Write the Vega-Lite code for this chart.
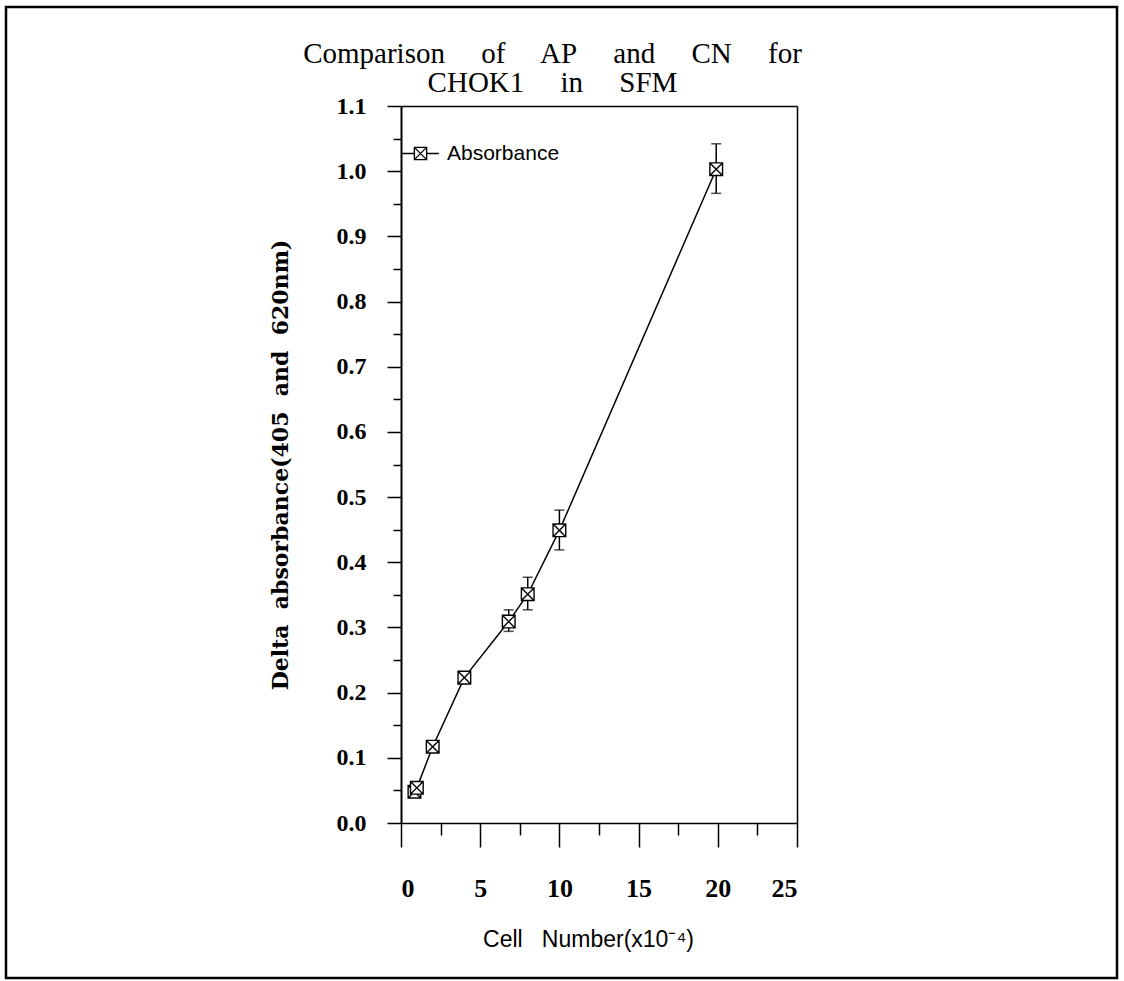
{
  "$schema": "https://vega.github.io/schema/vega-lite/v6.json",
  "width": 1111,
  "height": 971,
  "autosize": {"type": "none"},
  "padding": {"left": 6, "top": 7, "right": 7, "bottom": 3},
  "background": "white",
  "config": {
    "view": {"stroke": "black", "strokeWidth": 2.5},
    "axis": {"domainColor": "black", "tickColor": "black", "labelColor": "black", "titleColor": "black", "grid": false}
  },
  "title": {
    "text": ["Comparison\u00a0\u00a0\u00a0\u00a0 of\u00a0\u00a0\u00a0\u00a0 AP\u00a0\u00a0\u00a0\u00a0 and\u00a0\u00a0\u00a0\u00a0 CN\u00a0\u00a0\u00a0\u00a0 for", "CHOK1\u00a0\u00a0\u00a0\u00a0 in\u00a0\u00a0\u00a0\u00a0 SFM"],
    "font": "Liberation Serif",
    "fontSize": 29,
    "fontWeight": "normal",
    "lineHeight": 29,
    "anchor": "middle",
    "frame": "group",
    "dx": -9,
    "dy": 91,
    "offset": 0,
    "color": "black"
  },
  "data": {
    "values": [
      {"cells": 0.85, "abs": 0.048, "series": "Absorbance"},
      {"cells": 1.0, "abs": 0.054, "series": "Absorbance"},
      {"cells": 2.0, "abs": 0.117, "series": "Absorbance"},
      {"cells": 4.0, "abs": 0.223, "series": "Absorbance"},
      {"cells": 6.8, "abs": 0.309, "lo": 0.294, "hi": 0.327, "series": "Absorbance"},
      {"cells": 8.0, "abs": 0.351, "lo": 0.327, "hi": 0.377, "series": "Absorbance"},
      {"cells": 10.0, "abs": 0.449, "lo": 0.419, "hi": 0.480, "series": "Absorbance"},
      {"cells": 19.9, "abs": 1.003, "lo": 0.966, "hi": 1.042, "series": "Absorbance"}
    ]
  },
  "resolve": {"axis": {"x": "independent", "y": "independent"}},
  "layer": [
    {
      "mark": {"type": "line", "color": "black", "strokeWidth": 1.5},
      "encoding": {
        "x": {
          "field": "cells", "type": "quantitative",
          "scale": {"domain": [0, 25], "range": [395, 791], "nice": false, "zero": false},
          "axis": {
            "orient": "bottom",
            "offset": -155,
            "values": [0, 2.5, 5, 7.5, 10, 12.5, 15, 17.5, 20, 22.5, 25],
            "labelExpr": "datum.value % 5 == 0 ? format(datum.value, 'd') : ''",
            "tickSize": {"condition": {"test": "datum.value % 5 == 0", "value": 24}, "value": 12},
            "tickWidth": 1.5,
            "domainWidth": 1.5,
            "labelFont": "Liberation Serif",
            "labelFontWeight": "bold",
            "labelFontSize": 26,
            "labelPadding": 28,
            "title": "Cell\u00a0\u00a0 Number(x10\u207b\u2074)",
            "titleFont": "Liberation Sans",
            "titleFontSize": 23,
            "titleFontWeight": "normal",
            "titlePadding": 27,
            "titleX": 582
          }
        },
        "y": {
          "field": "abs", "type": "quantitative",
          "scale": {"domain": [0, 1.1], "range": [816, 99], "nice": false, "zero": false},
          "axis": {
            "orient": "left",
            "offset": -395,
            "values": [0, 0.05, 0.1, 0.15, 0.2, 0.25, 0.3, 0.35, 0.4, 0.45, 0.5, 0.55, 0.6, 0.65, 0.7, 0.75, 0.8, 0.85, 0.9, 0.95, 1.0, 1.05, 1.1],
            "labelExpr": "round(datum.value * 20) % 2 == 0 ? format(datum.value, '.1f') : ''",
            "tickSize": {"condition": {"test": "round(datum.value * 20) % 2 == 0", "value": 14}, "value": 8},
            "tickWidth": 1.5,
            "domainWidth": 2,
            "labelFont": "Liberation Serif",
            "labelFontWeight": "bold",
            "labelFontSize": 24,
            "labelPadding": 21,
            "title": "Delta\u00a0 absorbance(405\u00a0 and\u00a0 620nm)",
            "titleFont": "DejaVu Serif",
            "titleFontSize": 22,
            "titleFontWeight": "bold",
            "titlePadding": 44
          }
        }
      }
    },
    {
      "transform": [{"filter": "isValid(datum.lo)"}],
      "mark": {"type": "errorbar", "ticks": {"size": 10}, "thickness": 1.5, "color": "black"},
      "encoding": {
        "x": {"field": "cells", "type": "quantitative", "axis": null},
        "y": {"field": "lo", "type": "quantitative", "axis": null},
        "y2": {"field": "hi"}
      }
    },
    {
      "mark": {
        "type": "point",
        "shape": "M-1,-1L1,-1L1,1L-1,1Z M-1,-1L1,1 M1,-1L-1,1",
        "size": 160,
        "filled": false,
        "fill": "white",
        "fillOpacity": 1,
        "opacity": 1,
        "strokeWidth": 1.4
      },
      "encoding": {
        "x": {
          "field": "cells", "type": "quantitative",
          "axis": {"orient": "top", "offset": -99, "ticks": false, "labels": false, "title": null, "domainWidth": 1.5}
        },
        "y": {
          "field": "abs", "type": "quantitative",
          "axis": {"orient": "right", "offset": -320, "ticks": false, "labels": false, "title": null, "domainWidth": 1.5}
        },
        "stroke": {
          "field": "series", "type": "nominal",
          "scale": {"range": ["black"]},
          "legend": {
            "orient": "none",
            "legendX": 404,
            "legendY": 136,
            "title": null,
            "padding": 0,
            "labelFont": "Liberation Sans",
            "labelFontSize": 21,
            "labelColor": "black",
            "labelOffset": 16,
            "symbolSize": 150,
            "symbolType": "M-3,0L-1,0 M1,0L3,0 M-1,-1L1,-1L1,1L-1,1Z M-1,-1L1,1 M1,-1L-1,1",
            "symbolFillColor": "white",
            "symbolStrokeColor": "black",
            "symbolStrokeWidth": 1.4
          }
        }
      }
    }
  ]
}
